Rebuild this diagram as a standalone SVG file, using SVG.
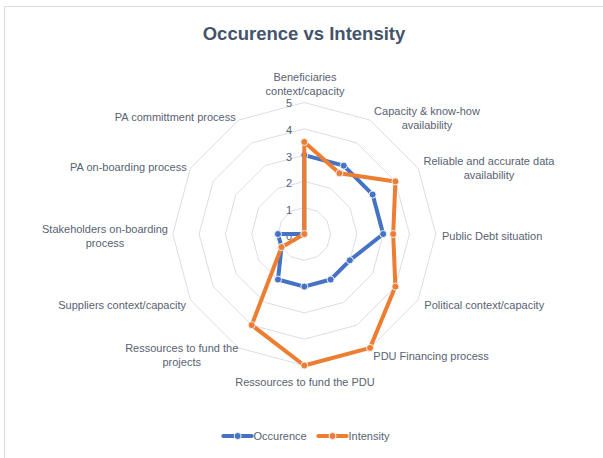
<svg xmlns="http://www.w3.org/2000/svg" width="603" height="458" viewBox="0 0 603 458">
<style>
.lbl{font-family:"Liberation Sans",Arial,sans-serif;font-size:11px;fill:#586272}
.tick{font-family:"Liberation Sans",Arial,sans-serif;font-size:11px;fill:#586272;text-anchor:middle}
.title{font-family:"Liberation Sans",Arial,sans-serif;font-size:18.5px;font-weight:bold;fill:#44546A;text-anchor:middle}
.ring{fill:none;stroke:#D9DEE6;stroke-width:1}
.ser{fill:none;stroke-width:4;stroke-linejoin:round;stroke-linecap:round}
.occ{stroke:#4472C4}
.int{stroke:#ED7D31}
.mo{fill:#4472C4;stroke:#EDEFF3;stroke-width:1}
.mi{fill:#ED7D31;stroke:#EDEFF3;stroke-width:1}
</style>
<rect width="603" height="458" fill="#FFFFFF"/>
<path d="M4.5,458 V6.5 H603" fill="none" stroke="#D9DEE6" stroke-width="1"/>
<text class="title" x="304" y="40">Occurence vs Intensity</text>
<g id="grid">
<polygon class="ring" points="304.3,207.7 317.45,211.22 327.08,220.85 330.6,234 327.08,247.15 317.45,256.78 304.3,260.3 291.15,256.78 281.52,247.15 278,234 281.52,220.85 291.15,211.22"/>
<polygon class="ring" points="304.3,181.4 330.6,188.45 349.85,207.7 356.9,234 349.85,260.3 330.6,279.55 304.3,286.6 278,279.55 258.75,260.3 251.7,234 258.75,207.7 278,188.45"/>
<polygon class="ring" points="304.3,155.1 343.75,165.67 372.63,194.55 383.2,234 372.63,273.45 343.75,302.33 304.3,312.9 264.85,302.33 235.97,273.45 225.4,234 235.97,194.55 264.85,165.67"/>
<polygon class="ring" points="304.3,128.8 356.9,142.9 395.4,181.4 409.5,234 395.4,286.6 356.9,325.1 304.3,339.2 251.7,325.1 213.2,286.6 199.1,234 213.2,181.4 251.7,142.9"/>
<polygon class="ring" points="304.3,102.5 370.05,120.12 418.18,168.25 435.8,234 418.18,299.75 370.05,347.88 304.3,365.5 238.55,347.88 190.42,299.75 172.8,234 190.42,168.25 238.55,120.12"/>
</g>
<g id="ticks">
<text class="tick" x="289" y="107">5</text>
<text class="tick" x="289" y="134">4</text>
<text class="tick" x="289" y="160.5">3</text>
<text class="tick" x="289" y="187">2</text>
<text class="tick" x="289" y="213.5">1</text>
<text class="tick" x="289" y="240">0</text>
</g>
<g id="connectors">
<polygon class="ser occ" points="304.3,155.1 343.75,165.67 372.63,194.55 383.2,234 349.85,260.3 330.6,279.55 304.3,286.6 278,279.55 281.52,247.15 278,234 304.3,234 304.3,234"/>
<g>
<circle class="mo" cx="304.3" cy="155.1" r="3.5"/><circle class="mo" cx="343.75" cy="165.67" r="3.5"/><circle class="mo" cx="372.63" cy="194.55" r="3.5"/><circle class="mo" cx="383.2" cy="234" r="3.5"/><circle class="mo" cx="349.85" cy="260.3" r="3.5"/><circle class="mo" cx="330.6" cy="279.55" r="3.5"/><circle class="mo" cx="304.3" cy="286.6" r="3.5"/><circle class="mo" cx="278" cy="279.55" r="3.5"/><circle class="mo" cx="281.52" cy="247.15" r="3.5"/><circle class="mo" cx="278" cy="234" r="3.5"/><circle class="mo" cx="304.3" cy="234" r="3.5"/>
</g>
<polygon class="ser int" points="304.3,141.95 339.41,173.19 395.4,181.4 393.2,234 395.4,286.6 370.05,347.88 304.3,365.5 251.7,325.1 281.52,247.15 304.3,234 304.3,234 304.3,234"/>
<g>
<circle class="mi" cx="304.3" cy="141.95" r="3.5"/><circle class="mi" cx="339.41" cy="173.19" r="3.5"/><circle class="mi" cx="395.4" cy="181.4" r="3.5"/><circle class="mi" cx="393.2" cy="234" r="3.5"/><circle class="mi" cx="395.4" cy="286.6" r="3.5"/><circle class="mi" cx="370.05" cy="347.88" r="3.5"/><circle class="mi" cx="304.3" cy="365.5" r="3.5"/><circle class="mi" cx="251.7" cy="325.1" r="3.5"/><circle class="mi" cx="281.52" cy="247.15" r="3.5"/><circle class="mi" cx="304.3" cy="234" r="3.5"/>
</g>
</g>
<g id="axis-labels">
<g id="n0"><text class="lbl" x="305" y="81" text-anchor="middle">Beneficiaries</text><text class="lbl" x="305" y="95" text-anchor="middle">context/capacity</text></g>
<g id="n1"><text class="lbl" x="427" y="114.5" text-anchor="middle">Capacity &amp; know-how</text><text class="lbl" x="427" y="128.5" text-anchor="middle">availability</text></g>
<g id="n2"><text class="lbl" x="489" y="164.5" text-anchor="middle">Reliable and accurate data</text><text class="lbl" x="489" y="179" text-anchor="middle">availability</text></g>
<g id="n3"><text class="lbl" x="442" y="240">Public Debt situation</text></g>
<g id="n4"><text class="lbl" x="424.3" y="309">Political context/capacity</text></g>
<g id="n5"><text class="lbl" x="373.3" y="359.5">PDU Financing process</text></g>
<g id="n6"><text class="lbl" x="305" y="385.5" text-anchor="middle">Ressources to fund the PDU</text></g>
<g id="n7"><text class="lbl" x="181.7" y="352" text-anchor="middle">Ressources to fund the</text><text class="lbl" x="181.7" y="366" text-anchor="middle">projects</text></g>
<g id="n8"><text class="lbl" x="186" y="309" text-anchor="end">Suppliers context/capacity</text></g>
<g id="n9"><text class="lbl" x="105" y="233" text-anchor="middle">Stakeholders on-boarding</text><text class="lbl" x="105" y="247" text-anchor="middle">process</text></g>
<g id="n10"><text class="lbl" x="186.7" y="171" text-anchor="end">PA on-boarding process</text></g>
<g id="n11"><text class="lbl" x="235.7" y="121" text-anchor="end">PA committment process</text></g>
</g>
<g id="legend">
<line x1="223.3" y1="436" x2="251.7" y2="436" stroke="#4472C4" stroke-width="4" stroke-linecap="round"/>
<circle class="mo" cx="237.7" cy="436" r="3.5"/>
<text class="lbl" x="253.5" y="440">Occurence</text>
<line x1="318.3" y1="436" x2="346.7" y2="436" stroke="#ED7D31" stroke-width="4" stroke-linecap="round"/>
<circle class="mi" cx="332.5" cy="436" r="3.5"/>
<text class="lbl" x="348.5" y="440">Intensity</text>
</g>
</svg>
